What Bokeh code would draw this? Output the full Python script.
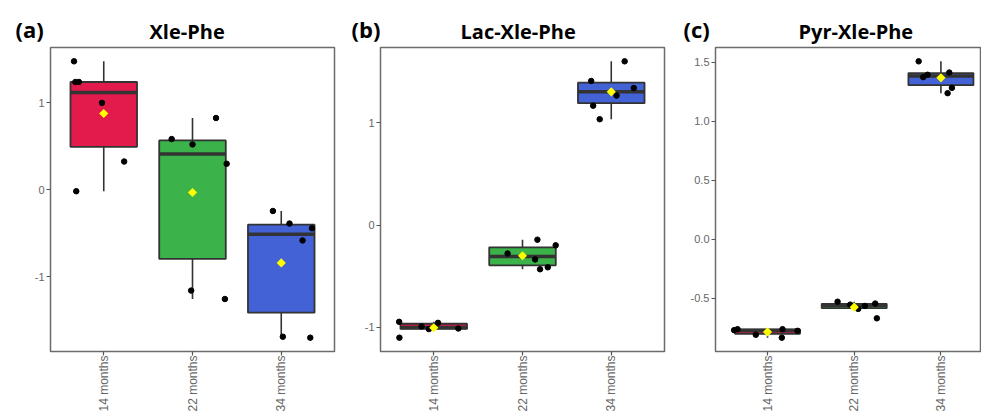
import numpy as np
from bokeh.plotting import figure
from bokeh.layouts import row
from bokeh.models import Range1d, FixedTicker, Title, ColumnDataSource
from bokeh.embed import file_html
from bokeh.resources import INLINE

groups = ["14 months", "22 months", "34 months"]
box_colors = ["#E31A4C", "#3BB24A", "#4262D6"]

# Panel (a) Xle-Phe
a_14 = [1.477, 1.239, 1.240, 1.000, 0.326, -0.015]
a_22 = [0.584, 0.523, 0.826, 0.300, -1.156, -1.253]
a_34 = [-0.242, -0.386, -0.440, -0.580, -1.686, -1.697]
a_14_jit = [-0.335, -0.32, -0.28, -0.02, 0.23, -0.31]
a_22_jit = [-0.235, 0.0, 0.265, 0.385, -0.015, 0.365]
a_34_jit = [-0.094, 0.093, 0.346, 0.24, 0.018, 0.327]

# Panel (b) Lac-Xle-Phe
b_14 = [-0.945, -1.100, -0.990, -1.016, -0.955, -1.010]
b_22 = [-0.277, -0.142, -0.197, -0.335, -0.431, -0.412]
b_34 = [1.602, 1.410, 1.341, 1.267, 1.168, 1.036]
b_14_jit = [-0.39, -0.387, -0.137, -0.055, 0.048, 0.277]
b_22_jit = [-0.168, 0.168, 0.374, 0.142, 0.198, 0.285]
b_34_jit = [0.151, -0.226, 0.254, 0.06, -0.204, -0.13]

# Panel (c) Pyr-Xle-Phe
c_14 = [-0.772, -0.764, -0.811, -0.764, -0.836, -0.778]
c_22 = [-0.531, -0.556, -0.592, -0.567, -0.547, -0.672]
c_34 = [1.506, 1.372, 1.392, 1.411, 1.281, 1.236]
c_14_jit = [-0.385, -0.346, -0.135, 0.173, 0.165, 0.346]
c_22_jit = [-0.192, -0.046, 0.046, 0.123, 0.242, 0.261]
c_34_jit = [-0.257, -0.204, -0.154, 0.096, 0.127, 0.077]

ticks_ab = [-1, 0, 1]
ticks_c = [-0.5, 0.0, 0.5, 1.0, 1.5]

FIG_H = 414
GREY = "#333333"


def box_stats(vals):
    v = np.asarray(vals, dtype=float)
    q1, med, q3 = np.percentile(v, [25, 50, 75])
    iqr = q3 - q1
    lo = v[v >= q1 - 1.5 * iqr].min()
    hi = v[v <= q3 + 1.5 * iqr].max()
    return q1, med, q3, lo, hi, v.mean()


def make_panel(title, letter, series, jits, ticks, width, bl, br, x_end,
               title_offset, letter_offset, fmt_one_decimal):
    allv = np.concatenate([np.asarray(s) for s in series])
    span = allv.max() - allv.min()
    yr = Range1d(allv.min() - 0.05 * span, allv.max() + 0.05 * span)
    p = figure(width=width, height=FIG_H, x_range=Range1d(0.4, x_end), y_range=yr,
               output_backend="svg", toolbar_location=None,
               min_border_left=bl, min_border_right=br,
               min_border_top=47, min_border_bottom=60)
    xs = [1, 2, 3]
    stats = [box_stats(s) for s in series]
    src = ColumnDataSource(dict(
        x=xs,
        q1=[s[0] for s in stats], med=[s[1] for s in stats], q3=[s[2] for s in stats],
        lo=[s[3] for s in stats], hi=[s[4] for s in stats], mean=[s[5] for s in stats],
        x0=[x - 0.375 for x in xs], x1=[x + 0.375 for x in xs],
        color=box_colors))
    p.segment(x0="x", x1="x", y0="q3", y1="hi", source=src, line_color=GREY, line_width=1.6)
    p.segment(x0="x", x1="x", y0="q1", y1="lo", source=src, line_color=GREY, line_width=1.6)
    p.vbar(x="x", width=0.75, top="q3", bottom="q1", source=src,
           fill_color="color", line_color=GREY, line_width=1.8)
    p.segment(x0="x0", x1="x1", y0="med", y1="med", source=src,
              line_color=GREY, line_width=3.5)
    px, py = [], []
    for gi, (s, j) in enumerate(zip(series, jits)):
        for v, o in zip(s, j):
            px.append(xs[gi] + o)
            py.append(v)
    p.scatter(px, py, size=5.5, color="black")
    p.scatter(x="x", y="mean", source=src, marker="square", angle=np.pi / 4, size=6.5,
              fill_color="#FFFF00", line_color=None)

    p.xgrid.visible = False
    p.ygrid.visible = False
    p.outline_line_color = "#6b6b6b"
    p.outline_line_width = 1.5
    p.background_fill_color = "white"
    p.border_fill_color = "white"

    p.xaxis.ticker = FixedTicker(ticks=xs)
    p.xaxis.major_label_overrides = {x: g for x, g in zip(xs, groups)}
    p.xaxis.major_label_orientation = np.pi / 2
    p.yaxis.ticker = FixedTicker(ticks=ticks)
    if fmt_one_decimal:
        p.yaxis.major_label_overrides = {t: f"{t:.1f}" for t in ticks}
    else:
        p.yaxis.major_label_overrides = {t: f"{t:g}" for t in ticks}
    for ax in (p.xaxis[0], p.yaxis[0]):
        ax.axis_line_color = None
        ax.major_tick_line_color = "#555555"
        ax.major_tick_line_width = 1.2
        ax.major_tick_out = 4
        ax.major_tick_in = 0
        ax.minor_tick_line_color = None
        ax.major_label_text_font = "Liberation Sans"
        ax.major_label_text_color = "#666666"
    p.xaxis.major_label_text_font_size = "12px"
    p.xaxis.major_label_standoff = 0
    p.yaxis.major_label_text_font_size = "11px"
    p.yaxis.major_label_standoff = 2

    # inner panel: main title; outer panel: panel letter pulled down to the same row
    main_t = Title(text=title, align="left", offset=title_offset, standoff=5,
                   text_font="Open Sans", text_font_style="bold",
                   text_font_size="20px", text_color="black")
    letter_t = Title(text=letter, align="left", offset=letter_offset, standoff=-60,
                     text_font="Open Sans", text_font_style="bold",
                     text_font_size="22px", text_color="black")
    p.add_layout(main_t, "above")
    p.add_layout(letter_t, "above")
    return p


pa = make_panel("Xle-Phe", "(a)", [a_14, a_22, a_34], [a_14_jit, a_22_jit, a_34_jit],
                ticks_ab, 338, 50, 4, 3.6, 99, -35, False)
pb = make_panel("Lac-Xle-Phe", "(b)", [b_14, b_22, b_34], [b_14_jit, b_22_jit, b_34_jit],
                ticks_ab, 330, 42, 4, 3.6, 80, -29, False)
pc = make_panel("Pyr-Xle-Phe", "(c)", [c_14, c_22, c_34], [c_14_jit, c_22_jit, c_34_jit],
                ticks_c, 313, 47, 0, 3.468, 83, -32, True)

layout = row(pa, pb, pc)
open("out.html", "w").write(file_html(layout, INLINE))
